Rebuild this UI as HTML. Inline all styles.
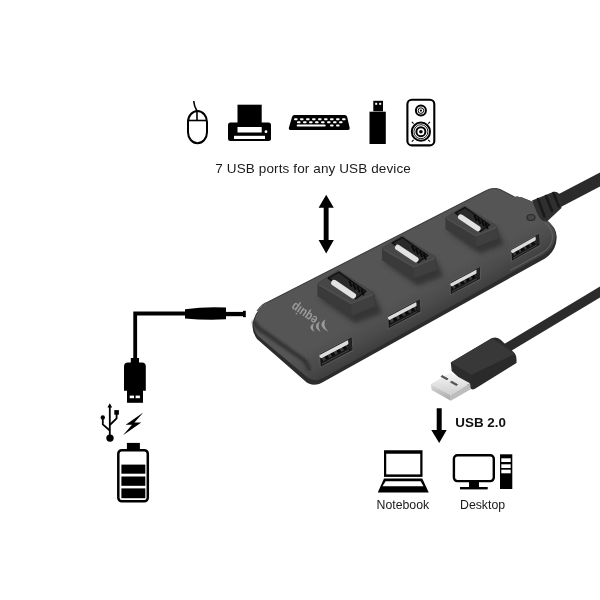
<!DOCTYPE html>
<html><head><meta charset="utf-8">
<style>
html,body{margin:0;padding:0;background:#fff;width:600px;height:600px;overflow:hidden}
svg{display:block;will-change:transform}
text{font-family:"Liberation Sans",sans-serif}
</style></head>
<body>
<svg width="600" height="600" viewBox="0 0 600 600">
<rect width="600" height="600" fill="#fff"/>
<!-- ===== TOP ICONS ===== -->
<g id="mouse" fill="none" stroke="#000" stroke-width="2">
  <rect x="188" y="111" width="19" height="32.2" rx="9.5" ry="11"/>
  <line x1="188" y1="120.5" x2="207" y2="120.5" stroke-width="1.6"/>
  <line x1="197" y1="111" x2="197" y2="120.5" stroke-width="1.6"/>
  <path d="M197 111 Q194 106 193.7 101" stroke-width="1.6"/>
</g>
<g id="printer">
  <rect x="237.5" y="104.7" width="24.2" height="20" fill="#000"/>
  <rect x="228" y="122.5" width="43" height="18.5" rx="2.5" fill="#000"/>
  <rect x="237.5" y="127" width="24.2" height="5.5" fill="#fff"/>
  <rect x="234" y="135.8" width="31" height="3.2" fill="#fff"/>
  <circle cx="266" cy="131.7" r="1.4" fill="#fff"/>
</g>
<g id="keyboard">
  <path d="M294.5 115 H344.7 Q346.7 115 347.2 117 L349.7 128 Q350 130 348 130 H290.4 Q288.4 130 288.8 128 L292 117 Q292.5 115 294.5 115 Z" fill="#000"/>
  <g fill="#fff">
    <rect x="294" y="118.2" width="3.6" height="2" rx="1"/>
    <rect x="300" y="118.2" width="3.6" height="2" rx="1"/>
    <rect x="306" y="118.2" width="3.6" height="2" rx="1"/>
    <rect x="312" y="118.2" width="3.6" height="2" rx="1"/>
    <rect x="318" y="118.2" width="3.6" height="2" rx="1"/>
    <rect x="324" y="118.2" width="3.6" height="2" rx="1"/>
    <rect x="330" y="118.2" width="3.6" height="2" rx="1"/>
    <rect x="336" y="118.2" width="3.6" height="2" rx="1"/>
    <rect x="342" y="118.2" width="3.6" height="2" rx="1"/>
    <rect x="297" y="121.3" width="3.6" height="2" rx="1"/>
    <rect x="303" y="121.3" width="3.6" height="2" rx="1"/>
    <rect x="309" y="121.3" width="3.6" height="2" rx="1"/>
    <rect x="315" y="121.3" width="3.6" height="2" rx="1"/>
    <rect x="321" y="121.3" width="3.6" height="2" rx="1"/>
    <rect x="327" y="121.3" width="3.6" height="2" rx="1"/>
    <rect x="333" y="121.3" width="3.6" height="2" rx="1"/>
    <rect x="339" y="121.3" width="3.6" height="2" rx="1"/>
    <rect x="296.7" y="124.6" width="29" height="2" rx="1"/>
    <rect x="330" y="124.4" width="3.6" height="2" rx="1"/>
    <rect x="336" y="124.4" width="3.6" height="2" rx="1"/>
  </g>
</g>
<g id="usbstick">
  <rect x="373.3" y="100.8" width="9.7" height="10.5" fill="#000"/>
  <rect x="375.2" y="102.8" width="2" height="2" fill="#fff"/>
  <rect x="379.2" y="102.8" width="2" height="2" fill="#fff"/>
  <rect x="369.5" y="111.7" width="16.3" height="32.3" fill="#000"/>
</g>
<g id="speaker" fill="none" stroke="#000">
  <rect x="407.4" y="99.7" width="26.9" height="45.7" rx="4.5" stroke-width="2.1"/>
  <circle cx="420.9" cy="110.6" r="5" stroke-width="2"/>
  <circle cx="420.9" cy="110.6" r="2.8" stroke-width="1"/>
  <circle cx="420.9" cy="110.6" r="1.1" fill="#000" stroke="none"/>
  <circle cx="420.9" cy="131.7" r="9.1" stroke-width="2"/>
  <circle cx="420.9" cy="131.7" r="7" stroke-width="0.9"/>
  <circle cx="420.9" cy="131.7" r="4.5" stroke-width="2"/>
  <circle cx="420.9" cy="131.7" r="1.8" fill="#000" stroke="none"/>
  <path d="M411.8 121.8 L413.6 123.6 M430 121.8 L428.2 123.6 M411.8 141.6 L413.6 139.8 M430 141.6 L428.2 139.8" stroke-width="1.1"/>
</g>
<text x="215.3" y="173.3" font-size="13.5" letter-spacing="0.12" fill="#1a1a1a">7 USB ports for any USB device</text>
<!-- vertical arrow -->
<polygon points="326.2,194.7 333.8,207.7 328.6,207.7 328.6,240.1 333.8,240.1 326.2,253.5 318.6,240.1 323.7,240.1 323.7,207.7 318.6,207.7" fill="#000"/>

<!-- ===== LEFT CABLE / BATTERY ===== -->
<path d="M226 313.5 H135.2 V360" fill="none" stroke="#000" stroke-width="3.8"/>
<path d="M185 309.2 Q205 306.6 226 307.6 V319.3 Q205 320.3 185 318.4 Z" fill="#000"/>
<rect x="225" y="311.9" width="19" height="4.3" fill="#000"/>
<rect x="243" y="310.8" width="2.8" height="6.4" fill="#000"/>
<rect x="130.8" y="358" width="8.2" height="5.5" fill="#000"/>
<path d="M124 390.8 V366.5 Q124 362.5 128 362.5 H141.8 Q145.8 362.5 145.8 366.5 V390.8 Z" fill="#000"/>
<rect x="127" y="390" width="16" height="12.8" fill="#000"/>
<rect x="129.7" y="395.6" width="4.3" height="2.6" fill="#fff"/>
<rect x="135.6" y="395.6" width="4.3" height="2.6" fill="#fff"/>
<!-- usb symbol -->
<g fill="none" stroke="#000" stroke-width="1.8">
  <line x1="109.8" y1="406" x2="109.8" y2="436"/>
  <path d="M102.8 418 V424.3 L109.8 430.5"/>
  <path d="M116.6 413 V418.3 L109.8 425"/>
</g>
<polygon points="109.8,403.3 107.4,407.5 112.2,407.5" fill="#000"/>
<circle cx="110" cy="438.1" r="3.7" fill="#000"/>
<circle cx="102.8" cy="417.4" r="2.2" fill="#000"/>
<rect x="114.3" y="410.1" width="4.6" height="4.6" fill="#000"/>
<!-- lightning -->
<polygon points="143.2,412.4 125.7,424.8 132,424.8 123,435.3 141.3,422.6 134.5,422.6" fill="#000"/>
<!-- battery -->
<rect x="126.9" y="442.9" width="13" height="6.5" fill="#000"/>
<rect x="118.3" y="450.2" width="29.5" height="51.1" rx="3.5" fill="none" stroke="#000" stroke-width="2.5"/>
<rect x="121.4" y="464.6" width="23.9" height="9.1" fill="#000"/>
<rect x="121.4" y="476.5" width="23.9" height="9.3" fill="#000"/>
<rect x="121.4" y="488.4" width="23.9" height="9.8" fill="#000"/>

<!-- ===== BOTTOM RIGHT ===== -->
<polygon points="436.7,408.3 441.7,408.3 441.7,430 446.7,430 439.2,443 431.3,430 436.7,430" fill="#000"/>
<text x="455.3" y="426.8" font-size="13.4" font-weight="bold" fill="#111">USB 2.0</text>
<g id="laptop">
  <rect x="384" y="450.25" width="38.5" height="26.65" fill="#000"/>
  <rect x="386.25" y="453.75" width="34" height="20.65" fill="#fff"/>
  <path d="M384 478.5 H422.25 L428.75 492.5 H377.75 Z" fill="#000"/>
  <path d="M385.6 481.25 H420.6 L423.5 486.25 H382.5 Z" fill="#fff"/>
</g>
<text x="376.5" y="509.3" font-size="12.3" fill="#1a1a1a">Notebook</text>
<g id="desktop">
  <rect x="453.9" y="455.2" width="39.9" height="25.9" rx="3.5" fill="none" stroke="#000" stroke-width="2.4"/>
  <rect x="469" y="482" width="10" height="5.2" fill="#000"/>
  <rect x="460" y="487" width="27.7" height="2.4" fill="#000"/>
  <rect x="500" y="454.3" width="12.3" height="34.7" fill="#000"/>
  <rect x="501.3" y="458.3" width="9.4" height="3.7" fill="#fff"/>
  <rect x="501.3" y="464.3" width="9.4" height="3.7" fill="#fff"/>
  <rect x="501.3" y="469.7" width="9.4" height="3.6" fill="#fff"/>
</g>
<text x="460" y="509.3" font-size="12.3" fill="#1a1a1a">Desktop</text>

<!-- HUB_PLACEHOLDER -->
<!-- ===== HUB ===== -->
<defs>
  <linearGradient id="gMetal" x1="0" y1="0" x2="0" y2="1">
    <stop offset="0" stop-color="#f6f6f6"/>
    <stop offset="1" stop-color="#d0d0d0"/>
  </linearGradient>
  <linearGradient id="gMetalF" x1="0" y1="0" x2="0" y2="1">
    <stop offset="0" stop-color="#d8d8d8"/>
    <stop offset="1" stop-color="#a8a8a8"/>
  </linearGradient>
  <linearGradient id="gFront" gradientUnits="userSpaceOnUse" x1="400" y1="298" x2="416.6" y2="327.7">
    <stop offset="0" stop-color="#555555"/>
    <stop offset="0.55" stop-color="#4b4b4b"/>
    <stop offset="1" stop-color="#3d3d3d"/>
  </linearGradient>
  <filter id="blur1" x="-20%" y="-20%" width="140%" height="140%"><feGaussianBlur stdDeviation="1.2"/></filter>
  <filter id="blur25" x="-30%" y="-30%" width="160%" height="160%"><feGaussianBlur stdDeviation="2.5"/></filter>
  <filter id="blur08" x="-20%" y="-20%" width="140%" height="140%"><feGaussianBlur stdDeviation="0.9"/></filter>
  <filter id="blur05"><feGaussianBlur stdDeviation="0.5"/></filter>
</defs>
<path d="M556 202.5 L620 169" stroke="#2b2b2b" stroke-width="12.5" fill="none"/>
<path d="M268 302 L486 190.8 Q493 187 500 189.5 L514.5 197 L517 196.5 L522 197.5 L532 201.5 L546 219.5 Q556.5 227 556.7 237 Q556.5 251 545 258.5 L324.5 381.3 Q313 388.5 305 381 L257 339 Q251 331 253 322 Q256 309 268 302 Z" fill="#2c2c2c"/>
<path d="M268 302 L486 190.8 Q493 187 500 189.5 L514.5 197 L517 196.5 L522 197.5 L532 201.5 L546 219.5 Q555.5 227 555.5 236.5 Q555 248 543 255 L324 377.5 Q314 383 307 377 L258 336 Q252.5 329 254 322 Q257 309 268 302 Z" fill="url(#gFront)"/>
<path d="M257 311 Q262 304 268 302 L486 190.8 Q493 187 500 189.5 L514.5 197" fill="none" stroke="#404040" stroke-width="1.1"/>
<path d="M545 222.5 Q552.5 229 552.6 237 Q552.5 247 541 253.5 L510 270.5" fill="none" stroke="#5e5e5e" stroke-width="1.1" filter="url(#blur05)"/>
<path d="M254.6 322.5 Q257 328 264 332 L303 359.5 Q307.5 363 309 369" fill="none" stroke="#353535" stroke-width="4.5" stroke-linecap="round" filter="url(#blur08)"/>
<path d="M532 200.5 L553 192 Q558 191 560 195.5 L561.5 208 L547 221.5 Q541 222 537.5 214 Z" fill="#2f2f2f"/>
<g stroke="#1a1a1a" stroke-width="2.6" fill="none" stroke-linecap="round"><path d="M538 199 L544.5 216.5"/><path d="M546 196 L552 211"/><path d="M553.5 193 L559 206.5"/></g>
<ellipse cx="531" cy="217.5" rx="4" ry="3" fill="#474747" stroke="#2a2a2a" stroke-width="1.2"/>
<polygon points="318.2,297.7 355.3,323.6 382.8,313.0 373.3,294.0" fill="#353535" filter="url(#blur25)"/>
<polygon points="318.7,283.9 338.3,271.7 372.8,293.4 374.9,305.6 352.1,314.6 318.7,295.6" fill="#3a3a3a" stroke="#3a3a3a" stroke-width="2.6" stroke-linejoin="round"/>
<polygon points="351.0,302.4 372.8,293.4 374.9,305.6 352.1,314.6" fill="#3f3f3f" stroke="#3f3f3f" stroke-width="1" stroke-linejoin="round"/>
<polygon points="318.7,283.9 338.3,271.7 372.8,293.4 351.0,302.4" fill="#474747" stroke="#474747" stroke-width="2.2" stroke-linejoin="round"/>
<polyline points="319.2,284.9 351.0,303.4 373.2,294.4" fill="none" stroke="#505050" stroke-width="1.3" stroke-linejoin="round"/>
<polygon points="328.2,278.1 338.8,272.2 365.9,291.3 355.8,298.7" fill="#2a2a2a" stroke="#111" stroke-width="1.5" stroke-linejoin="round"/>
<line x1="349.2" y1="280.7" x2="351.7" y2="286.7" stroke="#080808" stroke-width="1.8"/>
<line x1="353.2" y1="283.6" x2="355.7" y2="289.6" stroke="#080808" stroke-width="1.8"/>
<line x1="357.3" y1="286.5" x2="359.8" y2="292.5" stroke="#080808" stroke-width="1.8"/>
<line x1="361.3" y1="289.3" x2="363.8" y2="295.3" stroke="#080808" stroke-width="1.8"/>
<line x1="334.1" y1="282.8" x2="353.1" y2="295.6" stroke="#e2e2e2" stroke-width="5.9" stroke-linecap="round"/>
<polygon points="382.8,261.5 417.8,286.0 443.8,276.0 434.8,258.0" fill="#353535" filter="url(#blur25)"/>
<polygon points="383.3,248.5 401.8,237.0 434.3,257.5 436.3,269.0 414.8,277.5 383.3,259.5" fill="#3a3a3a" stroke="#3a3a3a" stroke-width="2.6" stroke-linejoin="round"/>
<polygon points="413.8,266.0 434.3,257.5 436.3,269.0 414.8,277.5" fill="#3f3f3f" stroke="#3f3f3f" stroke-width="1" stroke-linejoin="round"/>
<polygon points="383.3,248.5 401.8,237.0 434.3,257.5 413.8,266.0" fill="#474747" stroke="#474747" stroke-width="2.2" stroke-linejoin="round"/>
<polyline points="383.8,249.5 413.8,267.0 434.8,258.5" fill="none" stroke="#505050" stroke-width="1.3" stroke-linejoin="round"/>
<polygon points="392.3,243.0 402.3,237.5 427.8,255.5 418.3,262.5" fill="#2a2a2a" stroke="#111" stroke-width="1.5" stroke-linejoin="round"/>
<line x1="412.0" y1="245.6" x2="414.5" y2="251.6" stroke="#080808" stroke-width="1.8"/>
<line x1="415.8" y1="248.3" x2="418.3" y2="254.3" stroke="#080808" stroke-width="1.8"/>
<line x1="419.7" y1="251.0" x2="422.2" y2="257.0" stroke="#080808" stroke-width="1.8"/>
<line x1="423.5" y1="253.7" x2="426.0" y2="259.7" stroke="#080808" stroke-width="1.8"/>
<line x1="397.8" y1="247.5" x2="415.8" y2="259.5" stroke="#e2e2e2" stroke-width="5.6" stroke-linecap="round"/>
<polygon points="446.3,230.5 479.9,254.0 504.8,244.4 496.2,227.2" fill="#353535" filter="url(#blur25)"/>
<polygon points="446.7,218.0 464.5,207.0 495.7,226.7 497.6,237.7 477.0,245.9 446.7,228.6" fill="#3a3a3a" stroke="#3a3a3a" stroke-width="2.6" stroke-linejoin="round"/>
<polygon points="476.0,234.8 495.7,226.7 497.6,237.7 477.0,245.9" fill="#3f3f3f" stroke="#3f3f3f" stroke-width="1" stroke-linejoin="round"/>
<polygon points="446.7,218.0 464.5,207.0 495.7,226.7 476.0,234.8" fill="#474747" stroke="#474747" stroke-width="2.2" stroke-linejoin="round"/>
<polyline points="447.2,219.0 476.0,235.8 496.2,227.7" fill="none" stroke="#505050" stroke-width="1.3" stroke-linejoin="round"/>
<polygon points="455.4,212.8 465.0,207.5 489.5,224.8 480.3,231.5" fill="#2a2a2a" stroke="#111" stroke-width="1.5" stroke-linejoin="round"/>
<line x1="474.3" y1="215.2" x2="476.8" y2="221.2" stroke="#080808" stroke-width="1.8"/>
<line x1="477.9" y1="217.8" x2="480.4" y2="223.8" stroke="#080808" stroke-width="1.8"/>
<line x1="481.6" y1="220.4" x2="484.1" y2="226.4" stroke="#080808" stroke-width="1.8"/>
<line x1="485.3" y1="223.0" x2="487.8" y2="229.0" stroke="#080808" stroke-width="1.8"/>
<line x1="460.7" y1="217.1" x2="477.9" y2="228.6" stroke="#e2e2e2" stroke-width="5.4" stroke-linecap="round"/>
<polygon points="318.8,353.2 352.3,336.3 353.3,351.0 319.8,367.7" fill="#585858" filter="url(#blur05)"/>
<polygon points="320.0,354.0 351.5,337.5 352.3,350.0 320.8,366.5" fill="#141414"/>
<line x1="322.3" y1="359.5" x2="347.5" y2="346.3" stroke="#3a3a3a" stroke-width="3.8"/>
<line x1="325.1" y1="358.1" x2="328.3" y2="356.3" stroke="#0a0a0a" stroke-width="3.8"/>
<line x1="331.1" y1="354.9" x2="334.3" y2="353.2" stroke="#0a0a0a" stroke-width="3.8"/>
<line x1="337.1" y1="351.8" x2="340.3" y2="350.1" stroke="#0a0a0a" stroke-width="3.8"/>
<line x1="343.1" y1="348.6" x2="346.3" y2="346.9" stroke="#0a0a0a" stroke-width="3.8"/>
<line x1="321.9" y1="364.1" x2="349.0" y2="349.9" stroke="#3c3c3c" stroke-width="1.2"/>
<line x1="321.4" y1="356.1" x2="347.9" y2="342.2" stroke="#dcdcdc" stroke-width="3.8" stroke-linecap="round"/>
<polygon points="348.0,339.3 351.5,337.5 352.3,350.0 348.8,349.0" fill="#232323"/>
<polygon points="387.1,315.2 420.6,298.3 421.3,312.5 387.8,329.2" fill="#585858" filter="url(#blur05)"/>
<polygon points="388.3,316.0 419.8,299.5 420.3,311.5 388.8,328.0" fill="#141414"/>
<line x1="390.4" y1="321.2" x2="415.6" y2="308.1" stroke="#3a3a3a" stroke-width="3.6"/>
<line x1="393.3" y1="319.8" x2="396.5" y2="318.1" stroke="#0a0a0a" stroke-width="3.6"/>
<line x1="399.2" y1="316.7" x2="402.4" y2="315.0" stroke="#0a0a0a" stroke-width="3.6"/>
<line x1="405.2" y1="313.5" x2="408.4" y2="311.8" stroke="#0a0a0a" stroke-width="3.6"/>
<line x1="411.2" y1="310.4" x2="414.4" y2="308.7" stroke="#0a0a0a" stroke-width="3.6"/>
<line x1="390.0" y1="325.7" x2="417.1" y2="311.5" stroke="#3c3c3c" stroke-width="1.2"/>
<line x1="389.7" y1="318.0" x2="416.1" y2="304.1" stroke="#dcdcdc" stroke-width="3.6" stroke-linecap="round"/>
<polygon points="416.3,301.3 419.8,299.5 420.3,311.5 416.8,310.5" fill="#232323"/>
<polygon points="449.6,281.7 480.8,266.0 481.0,279.7 449.8,295.2" fill="#585858" filter="url(#blur05)"/>
<polygon points="450.8,282.5 480.0,267.2 480.0,278.7 450.8,294.0" fill="#141414"/>
<line x1="452.6" y1="287.6" x2="475.9" y2="275.3" stroke="#3a3a3a" stroke-width="3.4"/>
<line x1="455.0" y1="286.3" x2="458.2" y2="284.6" stroke="#0a0a0a" stroke-width="3.4"/>
<line x1="460.6" y1="283.4" x2="463.8" y2="281.7" stroke="#0a0a0a" stroke-width="3.4"/>
<line x1="466.1" y1="280.5" x2="469.3" y2="278.8" stroke="#0a0a0a" stroke-width="3.4"/>
<line x1="471.7" y1="277.5" x2="474.9" y2="275.8" stroke="#0a0a0a" stroke-width="3.4"/>
<line x1="452.0" y1="291.8" x2="477.1" y2="278.6" stroke="#3c3c3c" stroke-width="1.2"/>
<line x1="452.0" y1="284.4" x2="476.5" y2="271.6" stroke="#dcdcdc" stroke-width="3.4" stroke-linecap="round"/>
<polygon points="476.5,269.0 480.0,267.2 480.0,278.7 476.5,277.7" fill="#232323"/>
<polygon points="510.3,248.7 539.8,232.8 540.5,246.0 511.0,261.7" fill="#585858" filter="url(#blur05)"/>
<polygon points="511.5,249.5 539.0,234.0 539.5,245.0 512.0,260.5" fill="#141414"/>
<line x1="513.4" y1="254.3" x2="535.4" y2="241.9" stroke="#3a3a3a" stroke-width="3.3"/>
<line x1="515.7" y1="253.0" x2="518.9" y2="251.3" stroke="#0a0a0a" stroke-width="3.3"/>
<line x1="520.9" y1="250.0" x2="524.1" y2="248.3" stroke="#0a0a0a" stroke-width="3.3"/>
<line x1="526.1" y1="247.1" x2="529.3" y2="245.4" stroke="#0a0a0a" stroke-width="3.3"/>
<line x1="531.3" y1="244.1" x2="534.5" y2="242.4" stroke="#0a0a0a" stroke-width="3.3"/>
<line x1="513.0" y1="258.3" x2="536.7" y2="245.0" stroke="#3c3c3c" stroke-width="1.2"/>
<line x1="512.7" y1="251.3" x2="535.8" y2="238.3" stroke="#dcdcdc" stroke-width="3.3" stroke-linecap="round"/>
<polygon points="535.5,235.8 539.0,234.0 539.5,245.0 536.0,244.0" fill="#232323"/>
<text x="0" y="0" font-size="12" font-weight="bold" fill="#9a9a9a" transform="translate(318.5,318) rotate(214) scale(0.9,1.08)" font-family="Liberation Sans, sans-serif">equip</text>
<g fill="#9a9a9a"><path d="M314 323.3 Q306.5 327.5 314.6 332 Q311.8 327.5 314 323.3 Z"/><path d="M320 321.3 Q311.5 326.5 320.6 332 Q317 326.5 320 321.3 Z"/><path d="M325.5 319.3 Q316 325.5 328.6 332 Q322.2 325.5 325.5 319.3 Z"/></g>
<path d="M620 280 L505 349" stroke="#2b2b2b" stroke-width="9.5" fill="none"/>
<path d="M450.8 362.5 L491.7 338.3 Q497 336 501 340 L514.5 353 Q517 356 516.5 363 L475 388.8 Q472 390.5 470 388 L451.7 371 Z" fill="#2c2c2c"/>
<polygon points="450.8,362.5 491.7,338.3 515.0,354.2 471.7,375.0" fill="#383838"/>
<polygon points="471.7,375.0 515.0,354.2 516.0,362.5 473.3,388.8" fill="#2a2a2a"/>
<polygon points="430.8,384.2 450.0,372.5 470.0,383.3 450.8,395.0" fill="url(#gMetal)"/>
<polygon points="430.8,384.2 450.8,395.0 450.8,400.8 431.7,390.0" fill="url(#gMetalF)"/>
<polygon points="450.8,395.0 470.0,383.3 470.8,389.2 450.8,400.8" fill="#bdbdbd"/>
<polygon points="442.0,375.5 448.0,378.8 447.0,379.8 441.0,376.5" fill="#555" stroke="#555" stroke-width="1"/>
<polygon points="451.5,381.2 457.5,384.5 456.5,385.5 450.5,382.2" fill="#555" stroke="#555" stroke-width="1"/>
<!-- HUB_END -->
</svg>
</body></html>
